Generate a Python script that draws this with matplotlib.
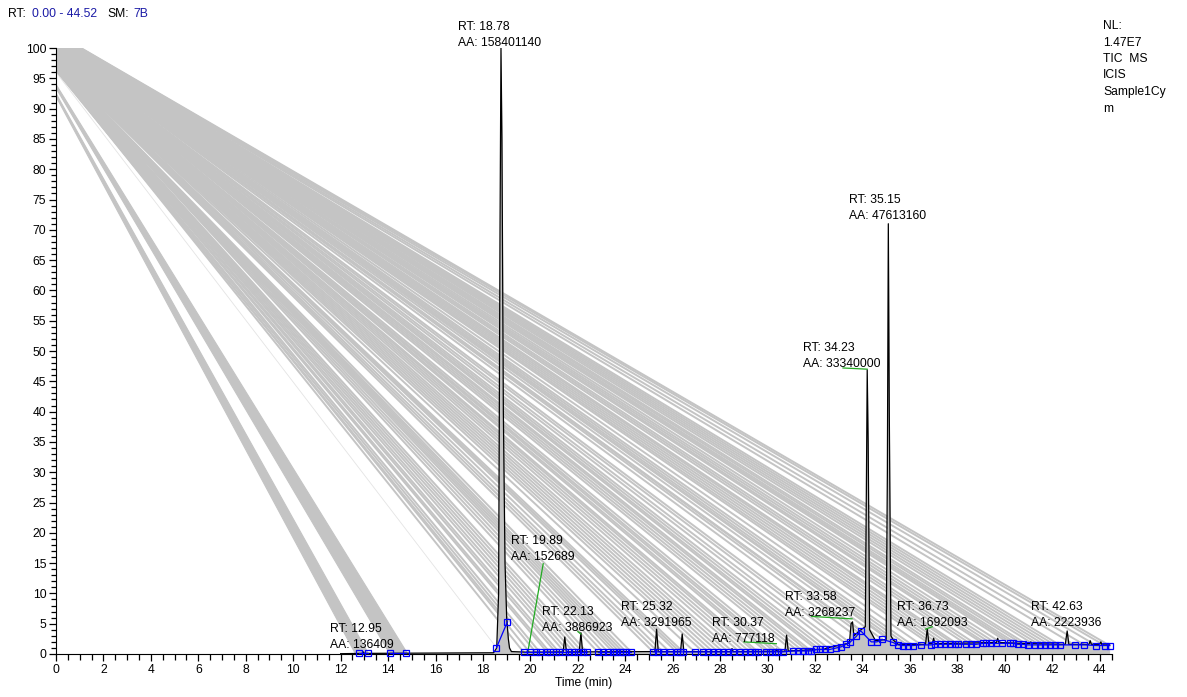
import matplotlib
matplotlib.use("Agg")
import matplotlib.pyplot as plt
import matplotlib.transforms as mtransforms
from matplotlib.ticker import MultipleLocator

plt.rcParams['font.family'] = ['Liberation Sans', 'DejaVu Sans']

# chromatogram (time in min, relative abundance)
chrom_t = [12.0, 12.9, 12.95, 13.0, 18.45, 18.58, 18.66, 18.72, 18.76, 18.8, 18.86, 18.93, 19.0,
           19.07, 19.12, 19.2, 19.85, 19.89, 19.95, 21.38, 21.45, 21.52, 22.06, 22.13, 22.2,
           25.25, 25.32, 25.39, 26.33, 26.4, 26.47, 28.45, 28.5, 28.55, 30.33, 30.37, 30.41,
           30.73, 30.8, 30.87, 32.4, 32.5, 33.45, 33.52, 33.58, 33.64, 33.9, 34.12, 34.17,
           34.2, 34.24, 34.3, 34.55, 35.0, 35.05, 35.09, 35.13, 35.2, 35.3, 35.5, 36.66, 36.73,
           36.8, 36.95, 37.0, 37.05, 39.65, 39.7, 39.75, 41.05, 41.1, 41.15, 42.55, 42.63,
           42.7, 43.55, 43.6, 43.65, 44.0, 44.05, 44.1, 44.42]
chrom_v = [0.05, 0.1, 0.35, 0.1, 0.2, 1.0, 10, 70, 100, 85, 40, 15, 6,
           2.5, 1.0, 0.4, 0.3, 0.5, 0.3, 0.35, 2.8, 0.35, 0.35, 3.5, 0.35,
           0.4, 4.1, 0.4, 0.4, 3.3, 0.4, 0.4, 0.9, 0.4, 0.45, 0.8, 0.45,
           0.45, 3.1, 0.5, 0.8, 1.0, 1.8, 5.0, 5.3, 3.0, 3.9, 4.5, 30,
           46.9, 35, 4.0, 2.2, 2.4, 30, 71, 40, 3.0, 2.3, 1.6, 1.6, 4.2,
           1.7, 1.7, 2.6, 1.7, 1.9, 2.6, 1.9, 1.7, 2.0, 1.7, 1.6, 3.8,
           1.6, 1.6, 2.2, 1.6, 1.6, 2.0, 1.5, 1.5]

# integration baseline points (blue squares), grouped in connected runs
base_groups_t = [
    [12.77, 13.15],
    [14.07, 14.74],
    [18.57, 19.03],
    [19.72, 19.97, 20.23, 20.40, 20.71, 20.82, 21.07, 21.21, 21.45, 21.63, 21.83, 22.01, 22.20, 22.39],
    [22.85, 23.07, 23.28, 23.49, 23.63, 23.77, 23.91, 24.05, 24.26],
    [25.17, 25.38, 25.59, 25.87, 26.16, 26.30, 26.44, 26.93, 27.28, 27.49, 27.70, 27.91, 28.12,
     28.33, 28.54, 28.82, 29.04, 29.25, 29.46, 29.60, 29.95, 30.09, 30.30, 30.44, 30.65, 31.07,
     31.28, 31.49, 31.70, 31.84, 32.06, 32.20, 32.41, 32.62, 32.90, 33.11, 33.32, 33.46, 33.74,
     33.92, 34.37, 34.61, 34.84, 35.29, 35.50, 35.71, 35.92, 36.13, 36.48, 36.90, 37.04, 37.25,
     37.46, 37.67, 37.88, 38.02, 38.38, 38.59, 38.80, 39.08, 39.22, 39.43, 39.64, 39.89, 40.20,
     40.34, 40.55, 40.76, 40.97, 41.26, 41.47, 41.68, 41.89, 42.10, 42.31, 42.94, 43.36, 43.86,
     44.21, 44.42],
]
base_groups_v = [
    [0.2, 0.2],
    [0.2, 0.2],
    [1.05, 5.3],
    [0.28] * 14,
    [0.28] * 9,
    [0.35, 0.35, 0.35, 0.35, 0.35, 0.35, 0.35, 0.35, 0.35, 0.35, 0.35, 0.35, 0.35,
     0.35, 0.35, 0.35, 0.35, 0.35, 0.35, 0.35, 0.35, 0.35, 0.35, 0.35, 0.35, 0.5,
     0.5, 0.5, 0.5, 0.5, 0.75, 0.75, 0.75, 0.75, 1.0, 1.2, 1.65, 1.9, 2.9,
     3.85, 2.0, 2.0, 2.4, 1.9, 1.5, 1.4, 1.4, 1.4, 1.5, 1.5, 1.6, 1.6,
     1.6, 1.6, 1.6, 1.6, 1.6, 1.6, 1.6, 1.75, 1.75, 1.75, 1.75, 1.75, 1.75,
     1.75, 1.6, 1.6, 1.5, 1.5, 1.5, 1.5, 1.5, 1.5, 1.5, 1.5, 1.5, 1.4,
     1.4, 1.4],
]

# grey fill artefact: two wide bands on the left (start y pair, end time pair)
band_start_y = [(92.0, 92.5), (93.4, 94.0)]
band_end_t = [(12.6, 13.15), (14.05, 14.8)]

# thin fan lines: start point of each line, one per baseline square from 18.57 on
fan_start_y = [96.0, 96.3,
               96.5, 96.55, 96.6, 96.65, 96.7, 96.75, 96.8, 96.85, 96.9, 96.95, 97.0, 97.05,
               97.1, 97.15, 97.2, 97.25, 97.3, 97.35, 97.4, 97.45, 97.5, 97.55, 97.6,
               97.7, 97.76, 97.82, 97.88, 97.94, 98.0, 98.06, 98.12, 98.18, 98.24, 98.3, 98.36,
               98.42, 98.48, 98.54, 98.6, 98.66, 98.72, 98.78, 98.84, 98.9, 98.96, 99.02, 99.08,
               99.14, 99.2, 99.26, 99.32, 99.38, 99.44, 99.5, 99.56, 99.62, 99.68, 99.74, 99.8,
               99.86]
fan_start_x = [0.0, 0.025, 0.05, 0.075, 0.1, 0.125, 0.15, 0.175, 0.2, 0.225, 0.25, 0.275,
               0.3, 0.325, 0.35, 0.375, 0.4, 0.425, 0.45, 0.475, 0.5, 0.525, 0.55, 0.575,
               0.6, 0.625, 0.65, 0.675, 0.7, 0.725, 0.75, 0.775, 0.8, 0.825, 0.85, 0.875,
               0.9, 0.925, 0.95, 0.975, 1.0, 1.025, 1.05]

# peak labels
peak_rt = ['12.95', '18.78', '19.89', '22.13', '25.32', '30.37', '33.58', '34.23', '35.15', '36.73', '42.63']
peak_aa = ['136409', '158401140', '152689', '3886923', '3291965', '777118', '3268237',
           '33340000', '47613160', '1692093', '2223936']
label_x = [11.55, 16.94, 19.17, 20.47, 23.81, 27.66, 30.72, 31.49, 33.42, 35.45, 41.12]
label_y = [0.94, 100.3, 15.5, 3.85, 4.67, 2.03, 6.27, 47.4, 71.8, 4.67, 4.67]

# green connector lines
green_lines = [([20.54, 19.89], [14.9, 0.3]),
               ([22.0, 22.13], [3.7, 3.3]),
               ([29.0, 30.37], [2.0, 1.7]),
               ([31.86, 33.56], [6.2, 5.8]),
               ([33.18, 34.2], [47.2, 47.0]),
               ([36.66, 36.94], [4.1, 4.5])]

fig = plt.figure(figsize=(11.87, 6.97), dpi=100)
ax = fig.add_axes([56 / 1187, 43 / 697, 1056 / 1187, 606 / 697])

# grey bands
for (y1, y2), (t1, t2) in zip(band_start_y, band_end_t):
    ax.fill([0, 0, t2, t1], [y1, y2, 0.2, 0.2], color='#c4c4c4', lw=0.8, zorder=1)

# grey fan
ends_t = [t for g in base_groups_t for t in g][4:]
ends_v = [v for g in base_groups_v for v in g][4:]
starts = [(0.0, y) for y in fan_start_y] + [(x, 100.0) for x in fan_start_x]
for i, ((sx, sy), et, ev) in enumerate(zip(starts, ends_t, ends_v)):
    if i == 0:
        ax.plot([sx, et], [sy, ev], color='#e4e4e4', lw=0.6, zorder=1)
    else:
        ax.plot([sx, et], [sy, ev], color='#c4c4c4', lw=1.4, zorder=1)

ax.fill_between(chrom_t, chrom_v, 0, color='#c4c4c4', lw=0, zorder=1)
ax.plot(chrom_t, chrom_v, color='black', lw=0.9, zorder=3)

for gx, gy in green_lines:
    ax.plot(gx, gy, color='#22aa22', lw=0.9, zorder=3)

for gt, gv in zip(base_groups_t, base_groups_v):
    ax.plot(gt, gv, color='#0000ff', lw=0.9, marker='s', ms=4.5, mfc='none', mec='#0000ff',
            mew=0.9, zorder=4, clip_on=False)

up = mtransforms.offset_copy(ax.transData, fig=fig, y=16, units='dots')
for rt, aa, lx, ly in zip(peak_rt, peak_aa, label_x, label_y):
    ax.text(lx, ly, 'AA: ' + aa, fontsize=8.7, va='baseline', ha='left', clip_on=False, zorder=5)
    ax.text(lx, ly, 'RT: ' + rt, fontsize=8.7, va='baseline', ha='left', clip_on=False,
            transform=up, zorder=5)

ax.set_xlim(0, 44.52)
ax.set_ylim(0, 100)
ax.spines['top'].set_visible(False)
ax.spines['right'].set_visible(False)
ax.xaxis.set_major_locator(MultipleLocator(2))
ax.xaxis.set_minor_locator(MultipleLocator(0.5))
ax.yaxis.set_major_locator(MultipleLocator(5))
ax.yaxis.set_minor_locator(MultipleLocator(1))
ax.tick_params(axis='both', which='major', labelsize=8.7, length=5, width=0.9, pad=2)
ax.tick_params(axis='both', which='minor', length=3.5, width=0.9)
ax.tick_params(axis='x', which='minor', length=4)
ax.set_xlabel('Time (min)', fontsize=8.7, labelpad=1)

# header texts
hy = 1 - 17 / 697
fig.text(8 / 1187, hy, 'RT:', fontsize=8.7, va='baseline')
fig.text(32 / 1187, hy, '0.00 - 44.52', fontsize=8.7, va='baseline', color='#1a1aa6')
fig.text(107 / 1187, hy, 'SM:', fontsize=8.7, va='baseline')
fig.text(133 / 1187, hy, '7B', fontsize=8.7, va='baseline', color='#1a1aa6')

nl_lines = ['NL:', '1.47E7', 'TIC  MS', 'ICIS', 'Sample1Cy', 'm']
for k, s in enumerate(nl_lines):
    fig.text(1103 / 1187, 1 - (29 + 16.5 * k) / 697, s, fontsize=8.7, va='baseline')

fig.savefig('out.png', dpi=100)
